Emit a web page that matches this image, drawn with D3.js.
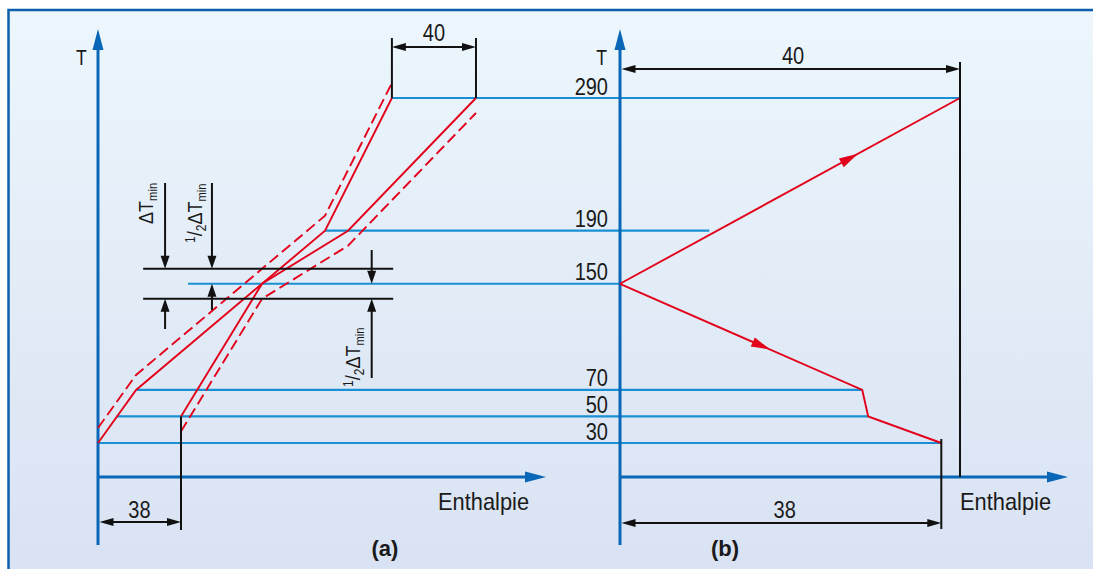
<!DOCTYPE html>
<html><head><meta charset="utf-8">
<script src="https://cdn.jsdelivr.net/npm/d3@7"></script>
<style>
html,body{margin:0;padding:0;background:#fff;}
svg{display:block;}
text{font-family:"Liberation Sans",Arial,sans-serif;fill:#1a1a1a;}
</style></head><body>
<svg id="c" width="1093" height="569"></svg>
<script>
// ---------- data ----------
const tempLevels  = [290, 190, 150, 70, 50, 30];
const tempLabels  = ["290", "190", "150", "70", "50", "30"];
const levelStartA = [136.7, 105.6, 41.9, 17.7, 8.6, 0];   // panel (a) enthalpy where level line starts
const levelEndB   = [40, 10.5, 0, 28.5, 29.2, 37.8];       // panel (b) enthalpy where level line ends
const compositeA  = [{h:0,t:30},{h:17.7,t:70},{h:105.6,t:190},{h:136.7,t:290}];
const compositeB  = [{h:38.6,t:50},{h:76.3,t:150},{h:116.3,t:190},{h:175.8,t:290}];
const halfDTmin   = 11.3;
const pinchT      = 150;
const grandHot    = [{h:0,t:150},{h:40,t:290}];
const grandCold   = [{h:0,t:150},{h:28.5,t:70},{h:29.2,t:50},{h:37.8,t:30}];
const dimTopLabel = "40";
const dimBotLabel = "38";
const axisTitleX  = "Enthalpie";
const axisTitleY  = "T";

// ---------- setup ----------
const svg = d3.select("#c");
const defs = svg.append("defs");
const grad = defs.append("linearGradient").attr("id","bg").attr("x1",0).attr("y1",0).attr("x2",0).attr("y2",1);
grad.append("stop").attr("offset","0%").attr("stop-color","#ecf6fc");
grad.append("stop").attr("offset","100%").attr("stop-color","#d7e1f2");
svg.append("rect").attr("x",8.5).attr("y",10).attr("width",1100).attr("height",600)
  .attr("fill","url(#bg)").attr("stroke","#0b5fad").attr("stroke-width",2.5);

const y  = d3.scaleLinear().domain([30,290]).range([443,98]);
const xa = d3.scaleLinear().domain([0,100]).range([98,313]);
const xb = d3.scaleLinear().domain([0,40]).range([620,960]);

const BLUE = "#1a8fd3", AXIS = "#0a66b6", RED = "#e3001b", BLACK = "#111";
const SX = 0.87;

function head(g, tx, ty, fx, fy, len, hw, color){
  const dx = tx-fx, dy = ty-fy, L = Math.hypot(dx,dy), ux = dx/L, uy = dy/L;
  const bx = tx-ux*len, by = ty-uy*len;
  g.append("path").attr("d",`M${tx},${ty}L${bx-uy*hw},${by+ux*hw}L${bx+uy*hw},${by-ux*hw}Z`)
    .attr("fill",color).attr("stroke","none");
}
function line(g,x1,y1,x2,y2,color,w){
  g.append("line").attr("x1",x1).attr("y1",y1).attr("x2",x2).attr("y2",y2)
    .attr("stroke",color).attr("stroke-width",w);
}

// ---------- level lines ----------
const gl = svg.append("g");
tempLevels.forEach((t,i)=>{
  line(gl, xa(levelStartA[i]), y(t), xb(levelEndB[i]), y(t), BLUE, 2.2);
});

// ---------- axes ----------
const ga = svg.append("g");
[xa(0), xb(0)].forEach((x0,k)=>{
  line(ga, x0, 545, x0, 48, AXIS, 3);
  head(ga, x0, 29, x0, 60, 21, 5.5, AXIS);
  const xEnd = k===0 ? 546 : 1068;
  line(ga, x0, 477, xEnd-18, 477, AXIS, 3);
  head(ga, xEnd, 477, x0, 477, 21, 5.5, AXIS);
});
// tick labels panel (b) via d3 axis
const axB = d3.axisLeft(y).tickValues(tempLevels).tickFormat((d,i)=>tempLabels[i]).tickSize(0).tickPadding(0);
const gAx = svg.append("g").attr("transform","translate(608,0)").call(axB);
gAx.select(".domain").remove();
gAx.selectAll("text").attr("dy","-4px").attr("font-size",23).attr("fill","#1a1a1a")
  .attr("font-family",'"Liberation Sans",Arial,sans-serif').attr("transform",`scale(${SX},1)`);

// ---------- composite curves (a) ----------
const gr = svg.append("g").attr("fill","none");
const la = d3.line().x(d=>xa(d.h)).y(d=>y(d.t));
gr.append("path").attr("d",la(compositeA.map(d=>({h:d.h,t:d.t+halfDTmin}))))
  .attr("stroke",RED).attr("stroke-width",1.9).attr("stroke-dasharray","11,5");
gr.append("path").attr("d",la(compositeB.map(d=>({h:d.h,t:d.t-halfDTmin}))))
  .attr("stroke",RED).attr("stroke-width",1.9).attr("stroke-dasharray","11,5");
gr.append("path").attr("d",la(compositeA)).attr("stroke",RED).attr("stroke-width",1.9);
gr.append("path").attr("d",la(compositeB)).attr("stroke",RED).attr("stroke-width",1.9);

// ---------- grand composite (b) ----------
const lb = d3.line().x(d=>xb(d.h)).y(d=>y(d.t));
gr.append("path").attr("d",lb(grandHot)).attr("stroke",RED).attr("stroke-width",1.9);
gr.append("path").attr("d",lb(grandCold)).attr("stroke",RED).attr("stroke-width",1.9);
{
  const p0 = grandHot[0], p1 = grandHot[1], f = 0.70;
  const tx = xb(p0.h+(p1.h-p0.h)*f), ty = y(p0.t+(p1.t-p0.t)*f);
  head(gr, tx, ty, xb(p0.h), y(p0.t), 19, 5, RED);
  const c0 = grandCold[0], c1 = grandCold[1], g2 = 0.62;
  const cx = xb(c0.h+(c1.h-c0.h)*g2), cy = y(c0.t+(c1.t-c0.t)*g2);
  head(gr, cx, cy, xb(c0.h), y(c0.t), 19, 5, RED);
}

// ---------- dimension annotations ----------
const gd = svg.append("g");
// (a) 40
const aTopL = xa(compositeA[3].h), aTopR = xa(compositeB[3].h), yTop = y(290);
line(gd, aTopL, 38, aTopL, yTop, BLACK, 2);
line(gd, aTopR, 38, aTopR, yTop, BLACK, 2);
line(gd, aTopL+10, 47, aTopR-10, 47, BLACK, 2);
head(gd, aTopL, 47, aTopR, 47, 14, 4, BLACK);
head(gd, aTopR, 47, aTopL, 47, 14, 4, BLACK);
// (a) 38
const aB = xa(compositeB[0].h);
line(gd, aB, y(compositeB[0].t), aB, 530, BLACK, 2);
line(gd, xa(0)+10, 522, aB-10, 522, BLACK, 2);
head(gd, xa(0)+1.5, 522, aB, 522, 14, 4, BLACK);
head(gd, aB, 522, xa(0), 522, 14, 4, BLACK);
// (b) 40
const bR = xb(grandHot[1].h);
line(gd, bR, 62, bR, 477, BLACK, 2);
line(gd, xb(0)+10, 69, bR-10, 69, BLACK, 2);
head(gd, xb(0)+1.5, 69, bR, 69, 14, 4, BLACK);
head(gd, bR, 69, xb(0), 69, 14, 4, BLACK);
// (b) 38
const bC = xb(grandCold[3].h);
line(gd, bC, y(30)-4, bC, 529, BLACK, 2);
line(gd, xb(0)+10, 523, bC-10, 523, BLACK, 2);
head(gd, xb(0)+1.5, 523, bC, 523, 14, 4, BLACK);
head(gd, bC, 523, xb(0), 523, 14, 4, BLACK);

// ΔTmin lines
const yHi = y(pinchT+halfDTmin), yLo = y(pinchT-halfDTmin), yP = y(pinchT);
line(gd, xa(21), yHi, xa(137.3), yHi, BLACK, 2);
line(gd, xa(21), yLo, xa(137.3), yLo, BLACK, 2);
function varrow(x, yFrom, yTip){
  line(gd, x, yFrom, x, yTip + (yTip>yFrom?-8:8), BLACK, 2);
  head(gd, x, yTip, x, yFrom, 13, 4.5, BLACK);
}
const xD = xa(31.2), xH = xa(53), xR = xa(127.3);
varrow(xD, 183, yHi); varrow(xD, 329, yLo);
varrow(xH, 183, yHi); varrow(xH, 310, yP);
varrow(xR, 250, yP);  varrow(xR, 378, yLo);

// ---------- texts ----------
const gt = svg.append("g");
function txt(x,yy,s,size,anchor,sx){
  return gt.append("text").attr("transform",`translate(${x},${yy}) scale(${sx||SX},1)`)
    .attr("font-size",size).attr("text-anchor",anchor||"start").text(s);
}
txt(76, 65, axisTitleY, 22, "start", 0.8);
txt(607, 65, axisTitleY, 22, "end", 0.8);
txt(438, 510, axisTitleX, 24, "start", 0.91);
txt(960, 510, axisTitleX, 24, "start", 0.91);
txt((aTopL+aTopR)/2, 41, dimTopLabel, 23, "middle");
txt((xb(0)+bR)/2+3, 64, dimTopLabel, 23, "middle");
txt((xa(0)+aB)/2, 518, dimBotLabel, 23, "middle");
txt((xb(0)+bC)/2+4, 518, dimBotLabel, 23, "middle");
gt.append("text").attr("x",385).attr("y",556).attr("text-anchor","middle")
  .attr("font-weight","bold").attr("font-size",22).text("(a)");
gt.append("text").attr("x",725).attr("y",556).attr("text-anchor","middle")
  .attr("font-weight","bold").attr("font-size",22).text("(b)");

function rotLabel(x, yy, half){
  const t = gt.append("text").attr("transform",`translate(${x},${yy}) rotate(-90) scale(0.86,1)`).attr("font-size",21);
  if(half){
    t.append("tspan").attr("font-size",14).attr("dy",-7).text("1");
    t.append("tspan").attr("dy",7).text("/");
    t.append("tspan").attr("font-size",14).attr("dy",4).text("2");
    t.append("tspan").attr("dy",-4).text("ΔT");
  } else {
    t.append("tspan").text("ΔT");
  }
  t.append("tspan").attr("font-size",13).attr("dy",4).text("min");
}
rotLabel(153, 224, false);
rotLabel(202, 243, true);
rotLabel(360, 387, true);
</script>
</body></html>
